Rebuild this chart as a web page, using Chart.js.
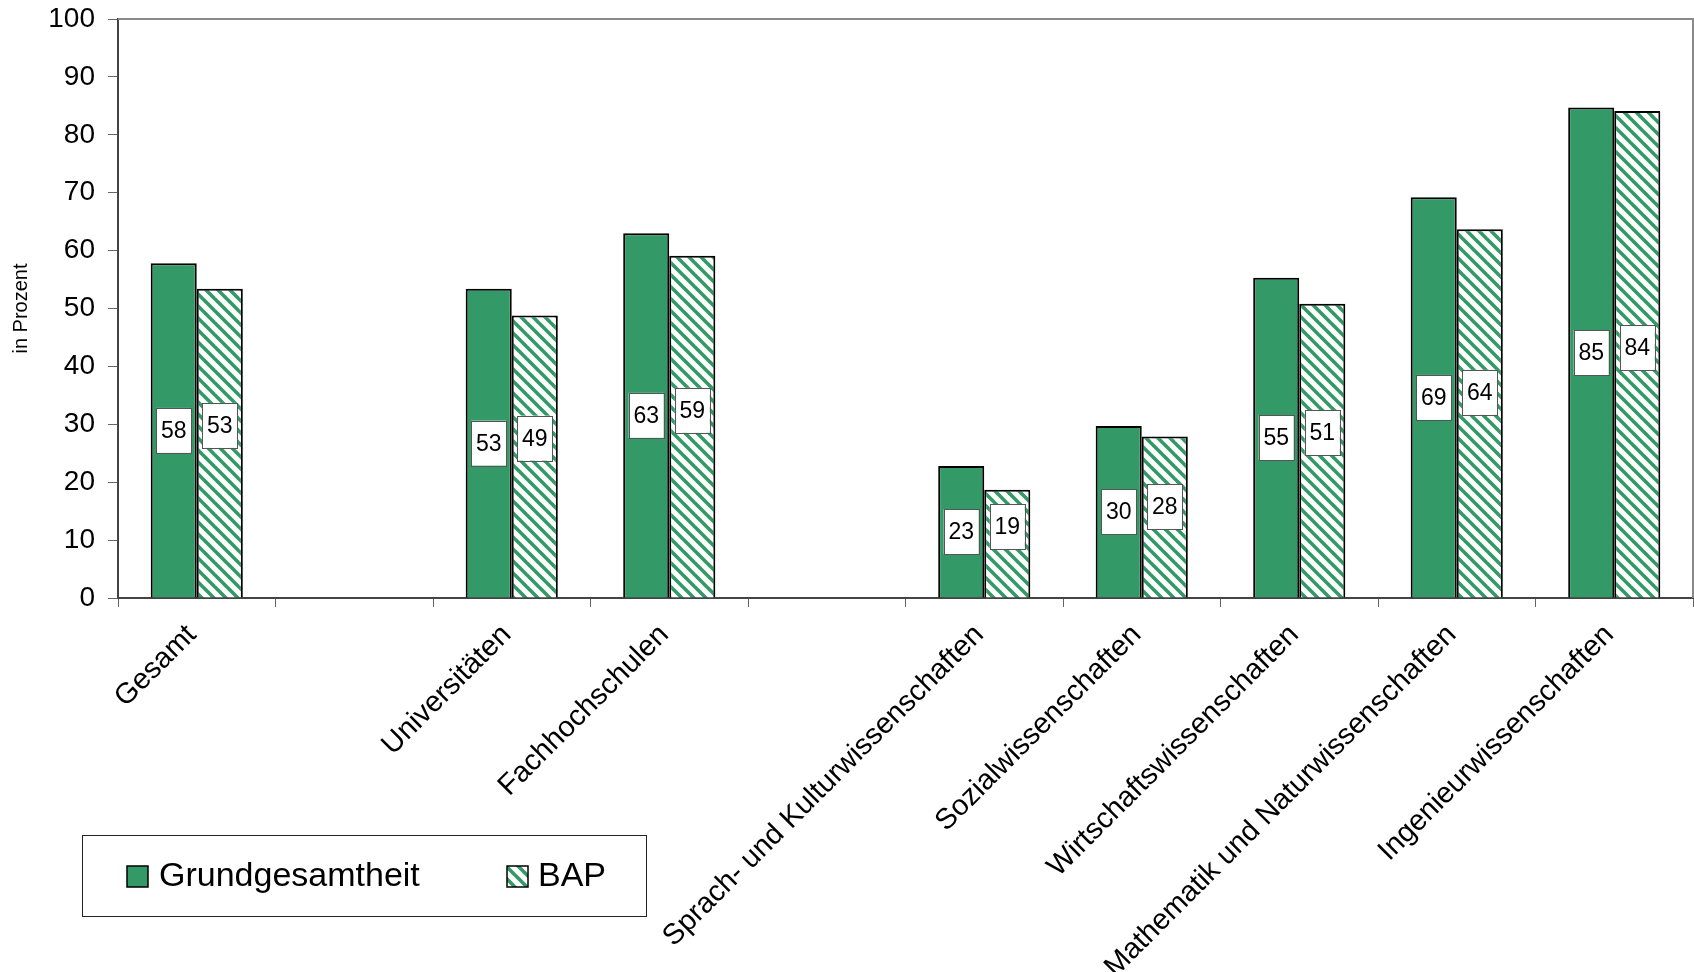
<!DOCTYPE html>
<html>
<head>
<meta charset="utf-8">
<script src="https://cdn.jsdelivr.net/npm/chart.js@4/dist/chart.umd.min.js"></script>
<style>
    html, body { margin: 0; padding: 0; background: #fff; }
    #wrap { width: 1694px; height: 972px; }
</style>
</head>
<body>
<div id="wrap"><canvas id="chart" width="1694" height="972"></canvas></div>
<script>
// Values (labels show rounded values)
const categories = [
    'Gesamt', '', 'Universitäten', 'Fachhochschulen', '',
    'Sprach- und Kulturwissenschaften', 'Sozialwissenschaften',
    'Wirtschaftswissenschaften', 'Mathematik und Naturwissenschaften',
    'Ingenieurwissenschaften'
];
const grundgesamtheit = [57.8, null, 53.4, 63.0, null, 22.8, 29.7, 55.3, 69.2, 84.7];
const bap = [53.4, null, 48.8, 59.1, null, 18.7, 27.9, 50.8, 63.7, 84.1];
const seriesNames = ['Grundgesamtheit', 'BAP'];
const yTicks = [0, 10, 20, 30, 40, 50, 60, 70, 80, 90, 100];

const GREEN = '#339966';
const FONT = '"Liberation Sans", Arial, sans-serif';

function makeHatch() {
    const s = 12;
    const c = document.createElement('canvas');
    c.width = s; c.height = s;
    const g = c.getContext('2d');
    g.fillStyle = '#fff';
    g.fillRect(0, 0, s, s);
    g.strokeStyle = GREEN;
    g.lineWidth = 3.6;
    for (let k = -1; k <= 1; k++) {
        g.beginPath();
        g.moveTo(-2, -2 + k * s);
        g.lineTo(s + 2, s + 2 + k * s);
        g.stroke();
    }
    return document.getElementById('chart').getContext('2d').createPattern(c, 'repeat');
}
const hatch = makeHatch();

// Frame on top and right of the plot area
const framePlugin = {
    id: 'frame',
    beforeDatasetsDraw(chart) {
        const { ctx, chartArea: a } = chart;
        ctx.save();
        ctx.strokeStyle = '#8a8a8a';
        ctx.lineWidth = 2;
        ctx.beginPath();
        ctx.moveTo(a.left, a.top);
        ctx.lineTo(a.right, a.top);
        ctx.lineTo(a.right, a.bottom);
        ctx.stroke();
        ctx.restore();
    }
};

// Boxed value labels, both boxes of a group on the level of the first bar's middle
const valueLabels = {
    id: 'valueLabels',
    afterDatasetsDraw(chart) {
        const ctx = chart.ctx;
        const m0 = chart.getDatasetMeta(0);
        ctx.save();
        ctx.font = '23px ' + FONT;
        ctx.textAlign = 'center';
        ctx.textBaseline = 'middle';
        chart.data.datasets.forEach((ds, di) => {
            const meta = chart.getDatasetMeta(di);
            meta.data.forEach((bar, i) => {
                const v = ds.data[i];
                if (v == null) return;
                const ref = m0.data[i];
                const y = (ref.y + ref.base) / 2 - (di === 0 ? 0 : 5);
                const x = bar.x;
                const w = 35, h = 45;
                ctx.fillStyle = '#fff';
                ctx.fillRect(x - w / 2, y - h / 2, w, h);
                ctx.strokeStyle = '#555';
                ctx.lineWidth = 1;
                ctx.strokeRect(Math.round(x - w / 2) + 0.5, Math.round(y - h / 2) + 0.5, w, h);
                ctx.fillStyle = '#000';
                ctx.fillText(String(Math.round(v)), x, y + 1);
            });
        });
        ctx.restore();
    }
};

// Legend box at lower left
const legendBox = {
    id: 'legendBox',
    afterDraw(chart) {
        const ctx = chart.ctx;
        ctx.save();
        ctx.strokeStyle = '#222';
        ctx.lineWidth = 1;
        ctx.strokeRect(82.5, 835.5, 564, 81);
        const items = [
            { x: 127, tx: 159, fill: GREEN, text: seriesNames[0] },
            { x: 507, tx: 538, fill: hatch, text: seriesNames[1] }
        ];
        ctx.font = '34px ' + FONT;
        ctx.textBaseline = 'middle';
        ctx.textAlign = 'left';
        items.forEach(it => {
            ctx.fillStyle = it.fill;
            ctx.fillRect(it.x, 866, 21, 21);
            ctx.strokeStyle = '#000';
            ctx.lineWidth = 1.5;
            ctx.strokeRect(it.x, 866, 21, 21);
            ctx.fillStyle = '#000';
            ctx.fillText(it.text, it.tx, 877);
        });
        ctx.restore();
    }
};

new Chart(document.getElementById('chart'), {
    type: 'bar',
    data: {
        labels: categories,
        datasets: [
            {
                label: seriesNames[0],
                data: grundgesamtheit,
                backgroundColor: GREEN,
                borderColor: '#000',
                borderWidth: 2,
                categoryPercentage: 0.585,
                barPercentage: 1
            },
            {
                label: seriesNames[1],
                data: bap,
                backgroundColor: hatch,
                borderColor: '#000',
                borderWidth: 2,
                categoryPercentage: 0.585,
                barPercentage: 1
            }
        ]
    },
    options: {
        responsive: false,
        animation: false,
        layout: { padding: { top: 19, right: 1, left: 0, bottom: 0 } },
        plugins: {
            legend: { display: false },
            tooltip: { enabled: false }
        },
        scales: {
            x: {
                afterFit: s => { s.height = 374; },
                border: { color: '#444', width: 2 },
                grid: {
                    offset: true,
                    drawOnChartArea: false,
                    tickLength: 9,
                    color: '#666',
                    lineWidth: 1
                },
                ticks: {
                    autoSkip: false,
                    minRotation: 45,
                    maxRotation: 45,
                    padding: 11,
                    labelOffset: -5,
                    color: '#000',
                    font: { family: FONT, size: 29 }
                }
            },
            y: {
                min: 0,
                max: 100,
                afterFit: s => { s.width = 118; s.paddingTop = 0; s.paddingBottom = 0; },
                afterBuildTicks: s => { s.ticks = yTicks.map(v => ({ value: v })); },
                border: { color: '#444', width: 2 },
                grid: {
                    drawOnChartArea: false,
                    tickLength: 10,
                    color: '#666',
                    lineWidth: 1
                },
                ticks: {
                    padding: 13,
                    color: '#000',
                    font: { family: FONT, size: 28 }
                },
                title: {
                    display: true,
                    text: 'in Prozent',
                    color: '#000',
                    font: { family: FONT, size: 20 },
                    padding: { top: 9, bottom: 0 }
                }
            }
        }
    },
    plugins: [framePlugin, valueLabels, legendBox]
});
</script>
</body>
</html>
